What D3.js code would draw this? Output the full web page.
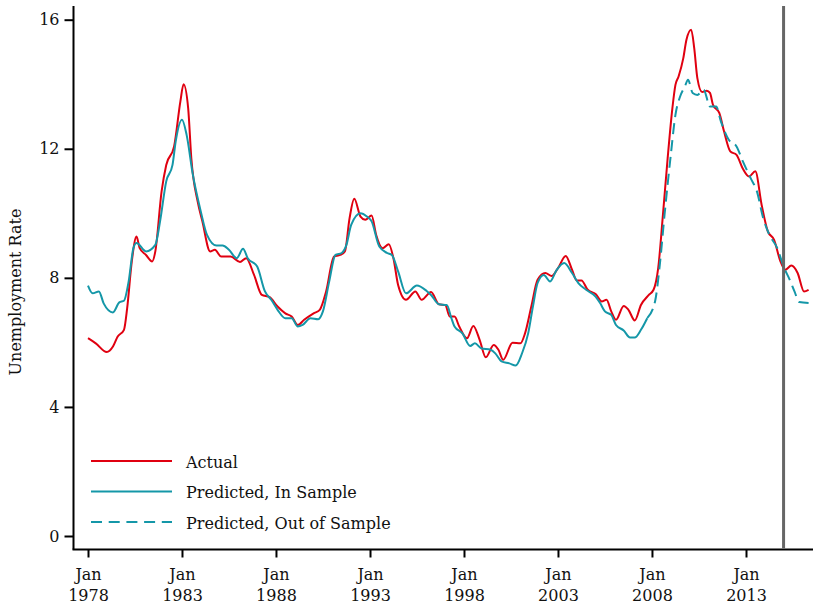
<!DOCTYPE html>
<html>
<head>
<meta charset="utf-8">
<script src="https://cdn.jsdelivr.net/npm/d3@7"></script>
<style>
  body { margin: 0; background: #fff; }
  svg text { font-family: "DejaVu Serif", serif; fill: #111; }
</style>
</head>
<body>
<div id="plot"></div>
<script>
// values, [month, rate]
var actual = [
  ["1978-01",6.13],["1978-06",5.97],["1979-01",5.70],["1979-05",5.87],["1979-08",6.18],["1979-12",6.39],
  ["1980-02",7.06],["1980-05",8.51],["1980-08",9.28],["1980-10",8.92],["1981-02",8.71],["1981-06",8.51],
  ["1981-08",8.82],["1981-12",10.68],["1982-03",11.50],["1982-08",12.07],["1982-12",13.47],["1983-02",14.0],
  ["1983-05",13.26],["1983-07",11.71],["1983-11",10.37],["1984-02",9.75],["1984-07",8.82],["1984-10",8.87],
  ["1985-02",8.66],["1985-08",8.66],["1986-02",8.49],["1986-06",8.61],["1986-11",8.09],["1987-04",7.47],
  ["1987-09",7.40],["1988-02",7.11],["1988-07",6.90],["1988-11",6.80],["1989-03",6.54],["1989-07",6.70],
  ["1990-01",6.90],["1990-05",7.01],["1990-09",7.58],["1991-02",8.66],["1991-06",8.71],["1991-09",8.82],
  ["1991-12",9.85],["1992-03",10.45],["1992-07",9.90],["1992-10",9.80],["1993-02",9.93],["1993-05",9.33],
  ["1993-09",8.92],["1994-01",9.04],["1994-04",8.61],["1994-07",7.78],["1994-12",7.32],["1995-06",7.58],
  ["1995-10",7.32],["1996-04",7.56],["1996-09",7.18],["1997-01",7.16],["1997-04",6.80],["1997-07",6.80],
  ["1997-10",6.49],["1998-03",6.13],["1998-07",6.51],["1998-11",6.08],["1999-03",5.54],["1999-08",5.92],
  ["1999-11",5.77],["2000-02",5.46],["2000-08",5.99],["2001-01",5.97],["2001-04",6.28],["2001-08",7.11],
  ["2001-12",7.94],["2002-05",8.15],["2002-09",8.06],["2003-01",8.30],["2003-06",8.68],["2003-10",8.25],
  ["2004-01",7.92],["2004-04",7.92],["2004-08",7.63],["2005-01",7.50],["2005-05",7.27],["2005-08",7.32],
  ["2005-11",6.96],["2006-02",6.70],["2006-07",7.13],["2006-10",7.01],["2007-02",6.68],["2007-06",7.16],
  ["2007-11",7.47],["2008-02",7.63],["2008-05",8.30],["2008-08",9.95],["2008-11",11.71],["2009-02",13.26],
  ["2009-04",13.98],["2009-06",14.24],["2009-09",14.81],["2009-11",15.38],["2010-02",15.69],["2010-04",15.12],
  ["2010-06",14.19],["2010-09",13.76],["2010-12",13.80],["2011-02",13.73],["2011-04",13.36],["2011-08",13.11],
  ["2011-11",12.54],["2012-03",11.92],["2012-07",11.81],["2012-11",11.38],["2013-03",11.14],["2013-07",11.30],
  ["2013-11",10.26],["2014-03",9.44],["2014-07",9.18],["2014-11",8.51],["2015-02",8.25],["2015-06",8.38],
  ["2015-10",8.15],["2016-02",7.58],["2016-05",7.63]
]

var inSample = [
  ["1978-01",7.76],["1978-04",7.52],["1978-08",7.58],["1978-11",7.21],["1979-05",6.93],["1979-09",7.24],
  ["1979-12",7.29],["1980-03",7.89],["1980-06",8.92],["1980-08",9.08],["1981-02",8.82],["1981-08",9.02],
  ["1981-11",9.75],["1982-03",10.99],["1982-07",11.50],["1982-09",12.23],["1983-01",12.9],["1983-04",12.43],
  ["1983-08",11.19],["1984-01",10.06],["1984-05",9.33],["1984-11",9.0],["1985-03",9.0],["1985-07",8.87],
  ["1985-12",8.61],["1986-04",8.9],["1986-07",8.61],["1987-01",8.35],["1987-06",7.58],["1987-10",7.32],
  ["1988-02",7.01],["1988-07",6.75],["1988-11",6.75],["1989-03",6.49],["1989-06",6.54],["1989-11",6.75],
  ["1990-04",6.72],["1990-07",6.96],["1990-11",7.89],["1991-03",8.71],["1991-07",8.77],["1991-10",9.02],
  ["1992-01",9.64],["1992-07",10.0],["1992-11",9.90],["1993-02",9.75],["1993-07",8.97],["1993-12",8.77],
  ["1994-03",8.71],["1994-07",8.20],["1994-12",7.52],["1995-07",7.76],["1996-01",7.60],["1996-04",7.47],
  ["1996-09",7.18],["1997-02",7.16],["1997-05",6.75],["1997-07",6.49],["1997-12",6.28],["1998-05",5.89],
  ["1998-08",5.97],["1998-12",5.82],["1999-06",5.77],["1999-09",5.66],["2000-01",5.41],["2000-06",5.35],
  ["2000-10",5.28],["2001-02",5.66],["2001-06",6.28],["2001-09",7.11],["2001-12",7.84],["2002-04",8.09],
  ["2002-08",7.89],["2002-12",8.23],["2003-05",8.46],["2003-10",8.15],["2004-02",7.84],["2004-07",7.63],
  ["2005-01",7.42],["2005-04",7.21],["2005-07",6.96],["2005-11",6.85],["2006-02",6.54],["2006-07",6.37],
  ["2006-11",6.15],["2007-02",6.15],["2007-06",6.39],["2007-10",6.75]
]

var outSample = [
  ["2007-10",6.75],["2008-03",7.27],["2008-06",8.40],["2008-09",9.95],["2009-01",11.81],["2009-04",13.05],
  ["2009-07",13.62],["2009-10",13.93],["2009-12",14.14],["2010-03",13.73],["2010-06",13.67],["2010-10",13.83],
  ["2011-02",13.31],["2011-06",13.31],["2011-09",12.85],["2012-02",12.28],["2012-07",12.07],["2012-11",11.61],
  ["2013-04",11.09],["2013-08",10.68],["2013-12",9.85],["2014-04",9.33],["2014-09",8.92],["2015-01",8.35],
  ["2015-05",7.94],["2015-08",7.58],["2015-11",7.25],["2016-05",7.22]
]

var yTicks = [0, 4, 8, 12, 16]
var xTickYears = [1978, 1983, 1988, 1993, 1998, 2003, 2008, 2013]
var cutoff = "2015-01"
var legendNames = ["Actual", "Predicted, In Sample", "Predicted, Out of Sample"]

var red = "#e00010", teal = "#1497a8"
var parse = d3.timeParse("%Y-%m")

var width = 813, height = 605
var svg = d3.select("#plot").append("svg")
  .attr("width", width)
  .attr("height", height)

var x = d3.scaleTime()
  .domain([new Date(1978, 0, 1), new Date(2013, 0, 1)])
  .range([88, 746])
var y = d3.scaleLinear()
  .domain([0, 16])
  .range([536, 19.7])

var axisLeftX = 73.5, axisBottomY = 549.5, axisTop = 6

// spines
svg.append("line")
  .attr("x1", axisLeftX).attr("x2", axisLeftX)
  .attr("y1", axisTop).attr("y2", axisBottomY)
  .attr("stroke", "#000").attr("stroke-width", 2)
svg.append("line")
  .attr("x1", axisLeftX - 1).attr("x2", width)
  .attr("y1", axisBottomY).attr("y2", axisBottomY)
  .attr("stroke", "#000").attr("stroke-width", 2)

// y axis
var gy = svg.append("g")
  .attr("transform", "translate(" + axisLeftX + ",0)")
  .call(d3.axisLeft(y).tickValues(yTicks).tickSize(9).tickPadding(5))
gy.select(".domain").remove()
gy.selectAll(".tick line").attr("stroke", "#000").attr("stroke-width", 2)
gy.selectAll(".tick text").style("font-size", "16px").attr("fill", "#111")

// x axis
var gx = svg.append("g")
  .attr("transform", "translate(0," + axisBottomY + ")")
  .call(d3.axisBottom(x).tickValues(xTickYears.map(function(d){ return new Date(d, 0, 1) })).tickSize(8).tickFormat(""))
gx.select(".domain").remove()
gx.selectAll(".tick line").attr("stroke", "#000").attr("stroke-width", 2)
gx.selectAll(".tick").each(function(d){
  var t = d3.select(this).append("text")
    .attr("text-anchor", "middle")
    .style("font-size", "16px")
    .attr("fill", "#111")
  t.append("tspan").attr("x", 0).attr("y", 30).text("Jan")
  t.append("tspan").attr("x", 0).attr("y", 51).text(d.getFullYear())
})

svg.append("text")
  .attr("transform", "translate(21," + 292 + ") rotate(-90)")
  .attr("text-anchor", "middle")
  .style("font-size", "16px")
  .text("Unemployment Rate")

var line = d3.line()
  .x(function(d){ return x(parse(d[0])) })
  .y(function(d){ return y(d[1]) })
  .curve(d3.curveMonotoneX)

svg.append("path").datum(actual)
  .attr("d", line).attr("fill", "none")
  .attr("stroke", red).attr("stroke-width", 2)
svg.append("path").datum(inSample)
  .attr("d", line).attr("fill", "none")
  .attr("stroke", teal).attr("stroke-width", 2)
svg.append("path").datum(outSample)
  .attr("d", line).attr("fill", "none")
  .attr("stroke", teal).attr("stroke-width", 2)
  .attr("stroke-dasharray", "11,6")

// sample cutoff
svg.append("line")
  .attr("x1", x(parse(cutoff))).attr("x2", x(parse(cutoff)))
  .attr("y1", axisTop).attr("y2", axisBottomY - 1)
  .attr("stroke", "#666").attr("stroke-width", 3)

// legend
var legend = svg.append("g").attr("transform", "translate(91,461)")
legendNames.forEach(function(name, i){
  var g = legend.append("g").attr("transform", "translate(0," + (i * 30.5) + ")")
  g.append("line")
    .attr("x1", 0).attr("x2", 81).attr("y1", 0).attr("y2", 0)
    .attr("stroke", i == 0 ? red : teal).attr("stroke-width", 2)
    .attr("stroke-dasharray", i == 2 ? "11,6.7" : null)
  g.append("text")
    .attr("x", 95).attr("y", 6.5)
    .style("font-size", "16px")
    .text(name)
})
</script>
</body>
</html>
